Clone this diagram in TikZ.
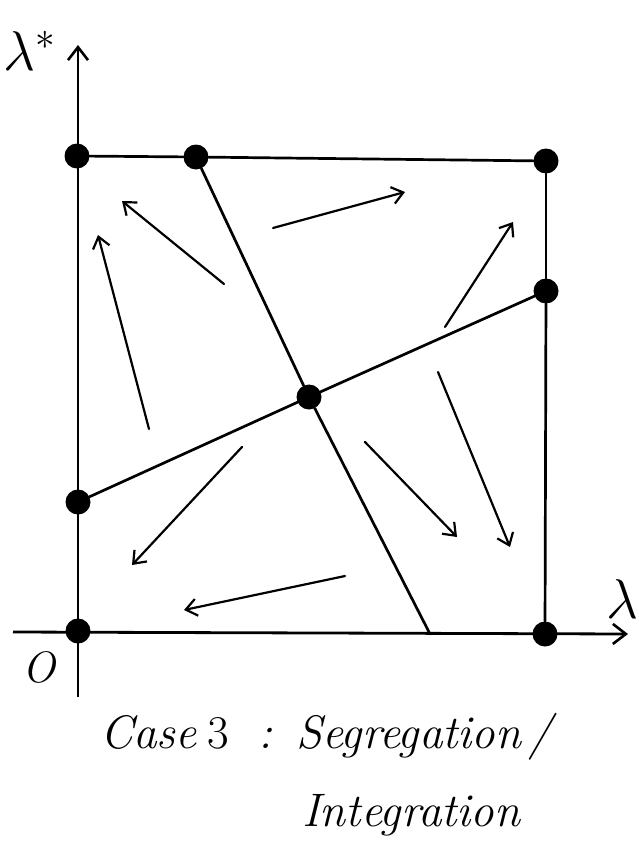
\RequirePackage{fix-cm}
\documentclass[tikz,border=0pt]{standalone}
\usetikzlibrary{arrows.meta}
\begin{document}
\begin{tikzpicture}[x=1pt,y=-1pt,
  dot/.style={circle,fill=black,inner sep=0pt,minimum size=25pt},
  edge/.style={line width=2.7pt,line cap=round},
  flow/.style={line width=2.2pt,line cap=round,-{Straight Barb[length=11pt,width=17pt,line width=2.2pt]}},
  axis/.style={line width=2.8pt,-{Straight Barb[length=13pt,width=20pt,line width=2.6pt]}},
  lbl/.style={inner sep=0pt,anchor=base west},
  big/.style={font=\fontsize{56}{60}\selectfont},
  captext/.style={font=\fontsize{47}{52}\selectfont\itshape}]
\useasboundingbox (0,0) rectangle (638,862);
% axis end points
\coordinate (ytop) at (78,45);
\coordinate (ybot) at (78,697);
\coordinate (xleft) at (13,632);
\coordinate (xright) at (628,634);
\coordinate (bd) at (430,634);
% dots
\node[dot] (o) at (78,631) {};
\node[dot] (tl) at (77,156) {};
\node[dot] (tm) at (196,157) {};
\node[dot] (tr) at (546,161) {};
\node[dot] (rm) at (546,291) {};
\node[dot] (c) at (309,397) {};
\node[dot] (lm) at (78,502) {};
\node[dot] (br) at (545,634) {};
% axes
\draw[axis] (ybot) -- (ytop);
\draw[axis] (xleft) -- (xright);
% square
\draw[edge] (tl) -- (tm);
\draw[edge] (tm) -- (tr);
\draw[edge] (tr) -- (rm);
\draw[edge] (rm) -- (br);
% separatrices
\draw[edge] (tm) -- (c);
\draw[edge] (c) -- (bd);
\draw[edge] (lm) -- (c);
\draw[edge] (c) -- (rm);
% flow arrows
\coordinate (a1s) at (224,284); \coordinate (a1e) at (122,201);
\coordinate (a2s) at (149,429); \coordinate (a2e) at (98,235);
\coordinate (a3s) at (273,228); \coordinate (a3e) at (405,192);
\coordinate (a4s) at (445,327); \coordinate (a4e) at (513,222);
\coordinate (a5s) at (242,447); \coordinate (a5e) at (132,565);
\coordinate (a6s) at (345,576); \coordinate (a6e) at (184,610);
\coordinate (a7s) at (365,442); \coordinate (a7e) at (457,537);
\coordinate (a8s) at (438,372); \coordinate (a8e) at (510,547);
\draw[flow] (a1s) -- (a1e);
\draw[flow] (a2s) -- (a2e);
\draw[flow] (a3s) -- (a3e);
\draw[flow] (a4s) -- (a4e);
\draw[flow] (a5s) -- (a5e);
\draw[flow] (a6s) -- (a6e);
\draw[flow] (a7s) -- (a7e);
\draw[flow] (a8s) -- (a8e);
% labels
\node[lbl,big] (ls) at (3,70) {$\lambda^{*}$};
\node[lbl,big] (lx) at (606,618) {$\lambda$};
\node[lbl,font=\fontsize{44}{48}\selectfont\itshape] (lo) at (22,682) {O};
% caption
\node[lbl,captext] (w1) at (100,748) {Case};
\node[lbl,captext] (w2) at (207,748) {\upshape 3};
\node[lbl,captext] (w3) at (258,748) {:};
\node[lbl,captext] (w4) at (296,748) {Segregation};
\node[lbl,captext] (w5) at (528,748) {/};
\node[lbl,captext] (w6) at (302,826) {Integration};
\end{tikzpicture}
\end{document}
